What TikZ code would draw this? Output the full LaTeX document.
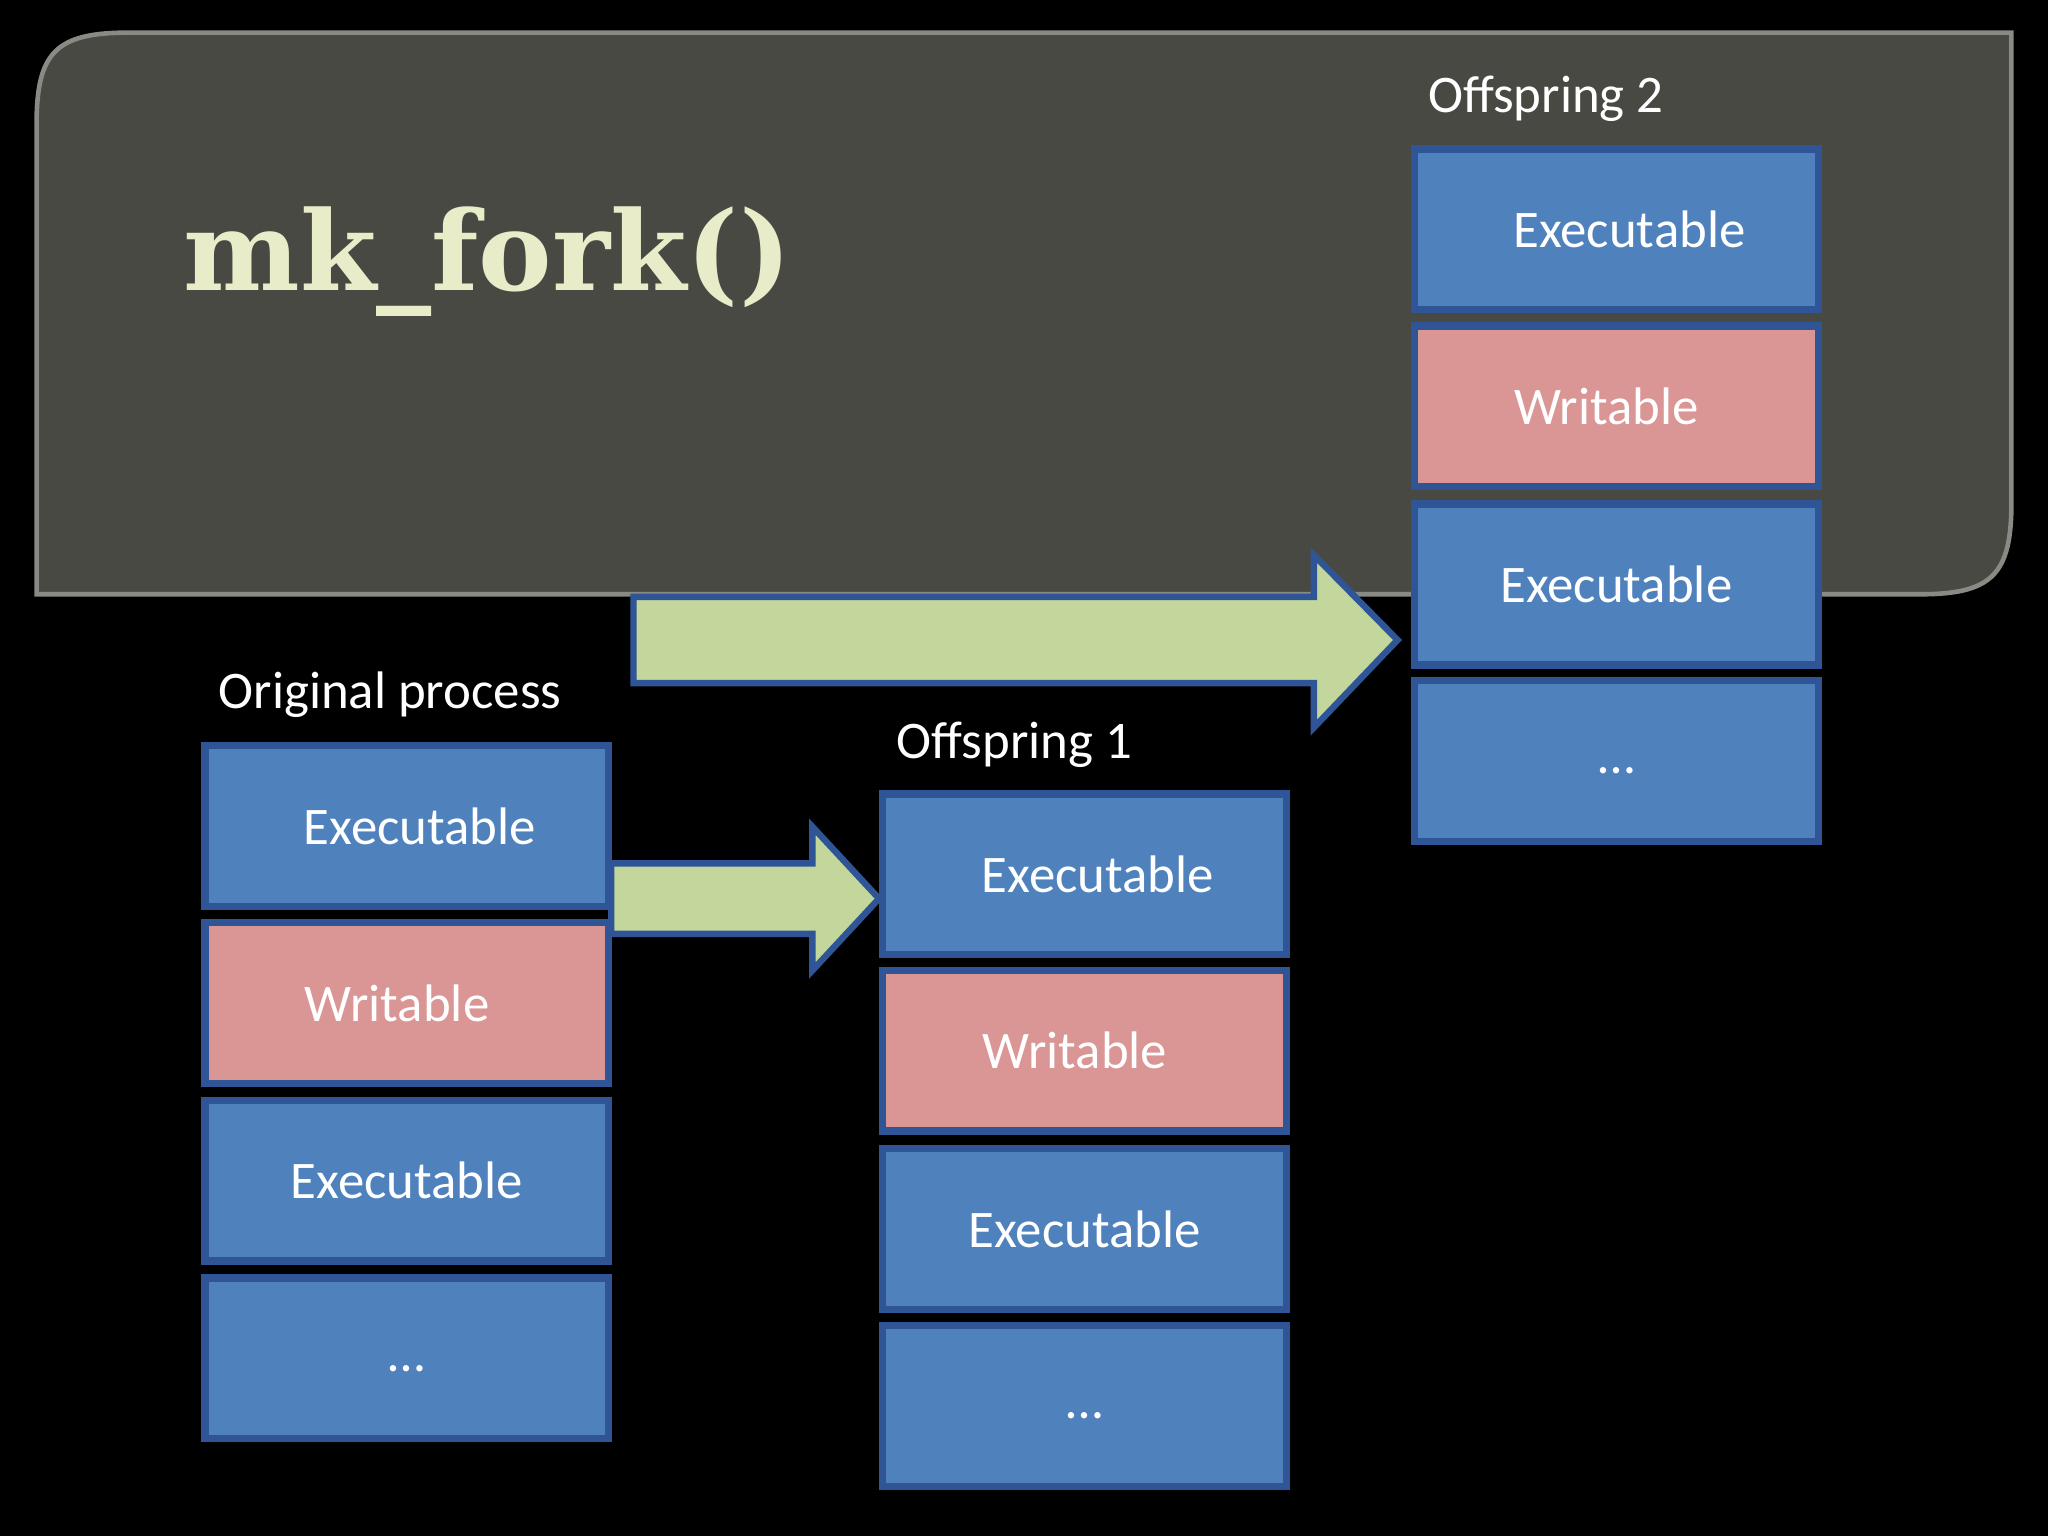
\documentclass[tikz,border=0pt]{standalone}
\usepackage{fontspec}
\setmainfont{Carlito}
\newfontfamily\titlefont{DejaVu Serif}
\usetikzlibrary{positioning}
\definecolor{panel}{HTML}{494943}
\definecolor{panelline}{HTML}{8A8A84}
\definecolor{cream}{HTML}{E8ECC8}
\definecolor{segblue}{HTML}{4F81BD}
\definecolor{segline}{HTML}{2F5597}
\definecolor{segpink}{HTML}{D99694}
\definecolor{arrowgreen}{HTML}{C3D69B}
\tikzset{
  seg/.style={draw=segline, line width=1.6pt, minimum width=3.09cm, minimum height=1.23cm,
    inner sep=0pt, text=white, font=\fontsize{11.5}{13}\selectfont},
  exe/.style={seg, fill=segblue},
  wri/.style={seg, fill=segpink},
  head/.style={text=white, anchor=west, font=\fontsize{11.5}{13}\selectfont},
  bigarrow/.style={fill=arrowgreen, draw=segline, line width=1.4pt, line join=miter}
}
\begin{document}
\begin{tikzpicture}[x=0.01cm, y=-0.01cm]
  \fill[black] (0,0) rectangle (1568,1176);
  \useasboundingbox (0,0) rectangle (1568,1176);
  % grey title panel
  \draw[fill=panel, draw=panelline, line width=1pt]
    (28,455) -- (28,95) .. controls (28,40) and (43,25) .. (98,25) -- (1540,25)
    -- (1540,385) .. controls (1540,440) and (1525,455) .. (1470,455) -- cycle;
  \node[text=cream, anchor=west, font=\titlefont\bfseries\fontsize{24}{26}\selectfont] (title) at (128,200) {mk\_fork()};
  % green arrows
  \draw[bigarrow] (485,457) -- (1006,457) -- (1006,425) -- (1070,490) -- (1006,557) -- (1006,523) -- (485,523) -- cycle;
  \draw[bigarrow] (468,661) -- (622,661) -- (622,633) -- (673,688) -- (622,743) -- (622,715) -- (468,715) -- cycle;
  % original process
  \node[head] (lo) at (155,532) {Original process};
  \node[exe] (o1) at (311.5,632.5) {\hspace{0.2cm}\raisebox{-0.08cm}{Executable}};
  \node[wri] (o2) at (311.5,768) {\hspace{-0.15cm}Writable};
  \node[exe] (o3) at (311.5,904) {\raisebox{-0.08cm}{Executable}};
  \node[exe] (o4) at (311.5,1040) {\raisebox{-0.2cm}{\dots}};
  % offspring 1
  \node[head] (la) at (674,570) {Offspring 1};
  \node[exe] (a1) at (830.5,669.5) {\hspace{0.2cm}\raisebox{-0.08cm}{Executable}};
  \node[wri] (a2) at (830.5,804.5) {\hspace{-0.15cm}Writable};
  \node[exe] (a3) at (830.5,941) {\raisebox{-0.08cm}{Executable}};
  \node[exe] (a4) at (830.5,1076.5) {\raisebox{-0.2cm}{\dots}};
  % offspring 2
  \node[head] (lb) at (1081,76) {Offspring 2};
  \node[exe] (b1) at (1237.5,175.5) {\hspace{0.2cm}\raisebox{-0.08cm}{Executable}};
  \node[wri] (b2) at (1237.5,311) {\hspace{-0.15cm}Writable};
  \node[exe] (b3) at (1237.5,447.5) {\raisebox{-0.08cm}{Executable}};
  \node[exe] (b4) at (1237.5,582.5) {\raisebox{-0.2cm}{\dots}};
\end{tikzpicture}
\end{document}
